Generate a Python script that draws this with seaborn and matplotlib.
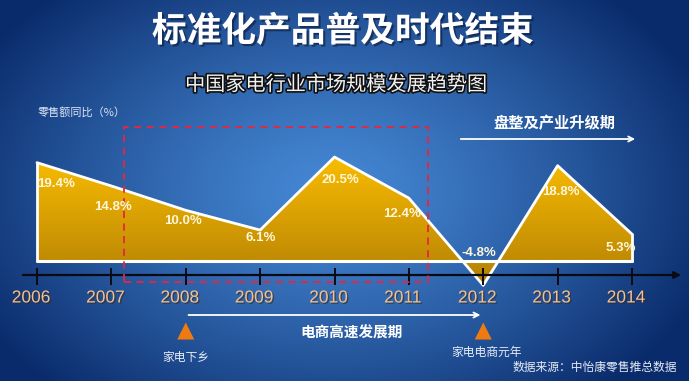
import numpy as np
import matplotlib
matplotlib.use("Agg")
import matplotlib.pyplot as plt
import matplotlib.patheffects as pe
from matplotlib.patches import Polygon, Rectangle
import seaborn as sns

years = [2006, 2007, 2008, 2009, 2010, 2011, 2012, 2013, 2014]
growth = [19.4, 14.8, 10.0, 6.1, 20.5, 12.4, -4.8, 18.8, 5.3]
value_labels = ["19.4%", "14.8%", "10.0%", "6.1%", "20.5%", "12.4%", "-4.8%", "18.8%", "5.3%"]
# label offsets in pixels from each point (layout only)
label_offsets = [(19, -21), (2, -21), (-3, -11), (1, -8), (6, -23), (-7, -16), (-4, 32), (3, -26), (-11, -14)]

sns.set_theme(style="white")
plt.rcParams['font.family'] = ['Noto Sans CJK SC', 'DejaVu Sans']

W, H = 689, 381
fig = plt.figure(figsize=(W / 100, H / 100), dpi=100)
ax = fig.add_axes([0, 0, 1, 1])

# pixel -> data helpers
PXY, X0, ZERO, PXP = 74.375, 37, 261, 5.07
def dx(p): return years[0] + (p - X0) / PXY
def dy(p): return (ZERO - p) / PXP

xmin, xmax, ymin, ymax = dx(0), dx(W), dy(H), dy(0)
ax.set_xlim(xmin, xmax)
ax.set_ylim(ymin, ymax)
ax.axis("off")

# blue radial background
yy, xx = np.mgrid[0:H, 0:W]
r = np.sqrt(((xx - 330) / 400) ** 2 + ((yy - 190) / 270) ** 2)
t = np.clip(r, 0, 1) ** 1.3
light = np.array([0.27, 0.53, 0.83])
dark = np.array([0.04, 0.17, 0.42])
bg = light * (1 - t[..., None]) + dark * t[..., None]
ax.imshow(bg, extent=[xmin, xmax, ymin, ymax], aspect="auto", zorder=0)

# gold gradient area
verts = [(years[0], 0)] + list(zip(years, growth)) + [(years[-1], 0)]
poly = Polygon(verts, closed=True, facecolor="none", edgecolor="none", zorder=2)
ax.add_patch(poly)
gy = np.linspace(1, 0, 200)[:, None]
top = np.array([0.98, 0.74, 0.0])
bot = np.array([0.70, 0.50, 0.02])
grad = top * gy[..., None] + bot * (1 - gy[..., None])
im = ax.imshow(grad, extent=[years[0], years[-1], min(growth), max(growth)],
               aspect="auto", zorder=2)
im.set_clip_path(poly)

sns.lineplot(x=years, y=growth, color="white", lw=2, ax=ax, zorder=3)
ax.plot([years[0], years[0]], [0, growth[0]], color="white", lw=2, zorder=3)
ax.plot([years[-1], years[-1]], [0, growth[-1]], color="white", lw=2, zorder=3)
ax.plot([years[0], years[-1]], [0, 0], color="white", lw=2.2, zorder=3)

# black time axis with ticks
ax.annotate("", xy=(dx(684), dy(275)), xytext=(dx(20), dy(275)),
            arrowprops=dict(arrowstyle="-|>", color="#0a0a14", lw=1.6, mutation_scale=10), zorder=4)
ax.vlines(years, dy(285), dy(268), color="#0a0a14", lw=1.4, zorder=4)

shadow = [pe.withSimplePatchShadow(offset=(1, -1), shadow_rgbFace="#3a2a1a", alpha=0.6)]
for yr in years:
    ax.annotate(str(yr), (yr, dy(298)), xytext=(-6, 0), textcoords="offset pixels",
                ha="center", va="center", fontsize=12.5, color="#F6C08C",
                family="Liberation Sans", path_effects=shadow, zorder=5)

for yr, v, lab, (ox, oy) in zip(years, growth, value_labels, label_offsets):
    ax.annotate(lab, (yr, v), xytext=(ox, oy), textcoords="offset pixels",
                ha="center", va="center", fontsize=9.5, fontweight="bold",
                color="#FFF6DC", family="Liberation Sans", zorder=5)

# red dashed frame
ax.add_patch(Rectangle((dx(124), dy(282)), dx(428) - dx(124), dy(127) - dy(282),
                       fill=False, edgecolor="#E62640", lw=1.3, ls=(0, (4, 3)), zorder=4))

# titles
ax.text(dx(343), dy(31), "标准化产品普及时代结束", ha="center", va="center",
        fontsize=25, fontweight="bold", color="white", zorder=6,
        path_effects=[pe.withSimplePatchShadow(offset=(1.5, -1.5), shadow_rgbFace="#0a1a3a", alpha=0.6)])
ax.text(dx(336), dy(85), "中国家电行业市场规模发展趋势图", ha="center", va="center",
        fontsize=14.5, color="#F2F2F2", zorder=6,
        path_effects=[pe.withStroke(linewidth=2.4, foreground="#101010")])
ax.text(dx(38), dy(112), "零售额同比（%）", ha="left", va="center",
        fontsize=8, color="#DDE6F5", zorder=6)

# upper period
ax.text(dx(554), dy(123), "盘整及产业升级期", ha="center", va="center",
        fontsize=11, fontweight="bold", color="white", zorder=6)
ax.annotate("", xy=(dx(638), dy(139)), xytext=(dx(458), dy(139)),
            arrowprops=dict(arrowstyle="->", color="white", lw=1.3, mutation_scale=9), zorder=6)

# lower period
ax.annotate("", xy=(years[6], dy(315)), xytext=(years[2], dy(315)),
            arrowprops=dict(arrowstyle="->", color="white", lw=1.3, mutation_scale=9), zorder=6)
ax.text(dx(352), dy(333), "电商高速发展期", ha="center", va="center",
        fontsize=10.5, fontweight="bold", color="white", zorder=6)
ax.scatter([years[2], years[6]], [dy(331), dy(331)], marker="^", s=150,
           color="#F07A12", edgecolor="none", zorder=6)
ax.text(years[2], dy(357), "家电下乡", ha="center", va="center",
        fontsize=8.5, color="#E6ECF7", zorder=6)
ax.text(years[6] + 0.05, dy(352), "家电电商元年", ha="center", va="center",
        fontsize=8.5, color="#E6ECF7", zorder=6)
ax.text(dx(595), dy(367), "数据来源：中怡康零售推总数据", ha="center", va="center",
        fontsize=8.5, color="#E6ECF7", zorder=6)

fig.savefig("out.png", dpi=100)
